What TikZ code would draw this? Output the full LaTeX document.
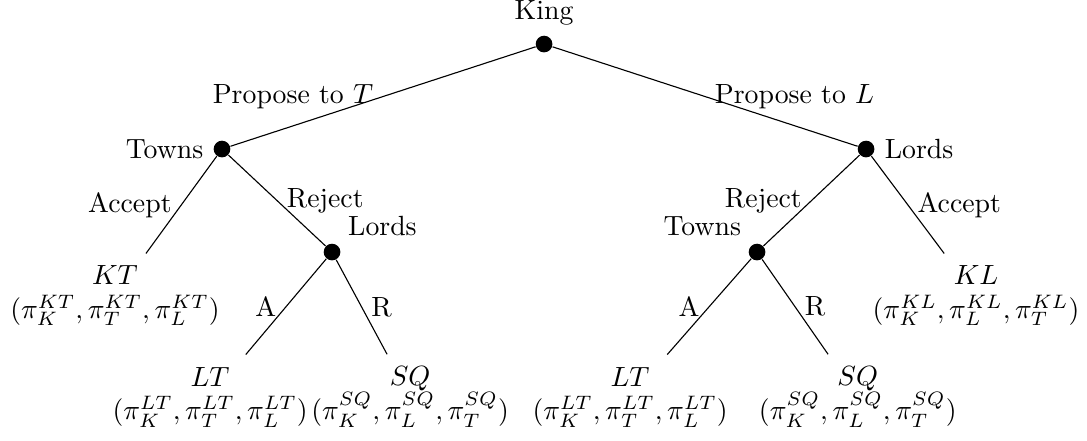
\documentclass[tikz,border=0pt]{standalone}

\begin{document}
\begin{tikzpicture}[
    %% ── Node styles ─────────────────────────────────────────────────────
    decision/.style={
        circle, fill=black,
        inner sep=0pt, minimum size=6pt,
    },
    outcome/.style={
        align=center, inner sep=2pt, outer sep=2.5pt,
    },
    %% ── Move labels ─────────────────────────────────────────────────────
    movel/.style={midway, left},
    mover/.style={midway, right},
]
\useasboundingbox (0,0) rectangle (13.75,-5.566);

%%─────────────────────────────────────────────────────────────────────────
%% Decision nodes
%%─────────────────────────────────────────────────────────────────────────
\node[decision, label=above:King]        (King)    at (6.882,-0.557) {};
\node[decision, label=left:Towns]        (Towns)   at (2.808,-1.885) {};
\node[decision, label=right:Lords]       (Lords)   at (10.955,-1.885) {};
\node[decision, label=above right:Lords] (LordsB)  at (4.200,-3.188) {};
\node[decision, label=above left:Towns]  (TownsB)  at (9.576,-3.188) {};

%%─────────────────────────────────────────────────────────────────────────
%% Outcomes
%%─────────────────────────────────────────────────────────────────────────
\node[outcome] (KT)  at (1.455,-3.744)
    {$KT$\\$(\pi_K^{KT},\pi_T^{KT},\pi_L^{KT})$};
\node[outcome] (KL)  at (12.346,-3.744)
    {$KL$\\$(\pi_K^{KL},\pi_L^{KL},\pi_T^{KL})$};
\node[outcome] (LTa) at (2.657,-5.022)
    {$LT$\\$(\pi_K^{LT},\pi_T^{LT},\pi_L^{LT})$};
\node[outcome] (SQa) at (5.187,-5.022)
    {$SQ$\\$(\pi_K^{SQ},\pi_L^{SQ},\pi_T^{SQ})$};
\node[outcome] (LTb) at (7.970,-5.022)
    {$LT$\\$(\pi_K^{LT},\pi_T^{LT},\pi_L^{LT})$};
\node[outcome] (SQb) at (10.850,-5.022)
    {$SQ$\\$(\pi_K^{SQ},\pi_L^{SQ},\pi_T^{SQ})$};

%%─────────────────────────────────────────────────────────────────────────
%% Moves
%%─────────────────────────────────────────────────────────────────────────
\draw (King) -- (Towns) node[movel] {Propose to $T$};
\draw (King) -- (Lords) node[mover] {Propose to $L$};

\draw (Towns) -- (KT)     node[movel] {Accept};
\draw (Towns) -- (LordsB) node[mover] {Reject};
\draw (Lords) -- (TownsB) node[movel] {Reject};
\draw (Lords) -- (KL)     node[mover] {Accept};

\draw (LordsB) -- (LTa) node[movel] {A};
\draw (LordsB) -- (SQa) node[mover] {R};
\draw (TownsB) -- (LTb) node[movel] {A};
\draw (TownsB) -- (SQb) node[mover] {R};

\end{tikzpicture}
\end{document}
